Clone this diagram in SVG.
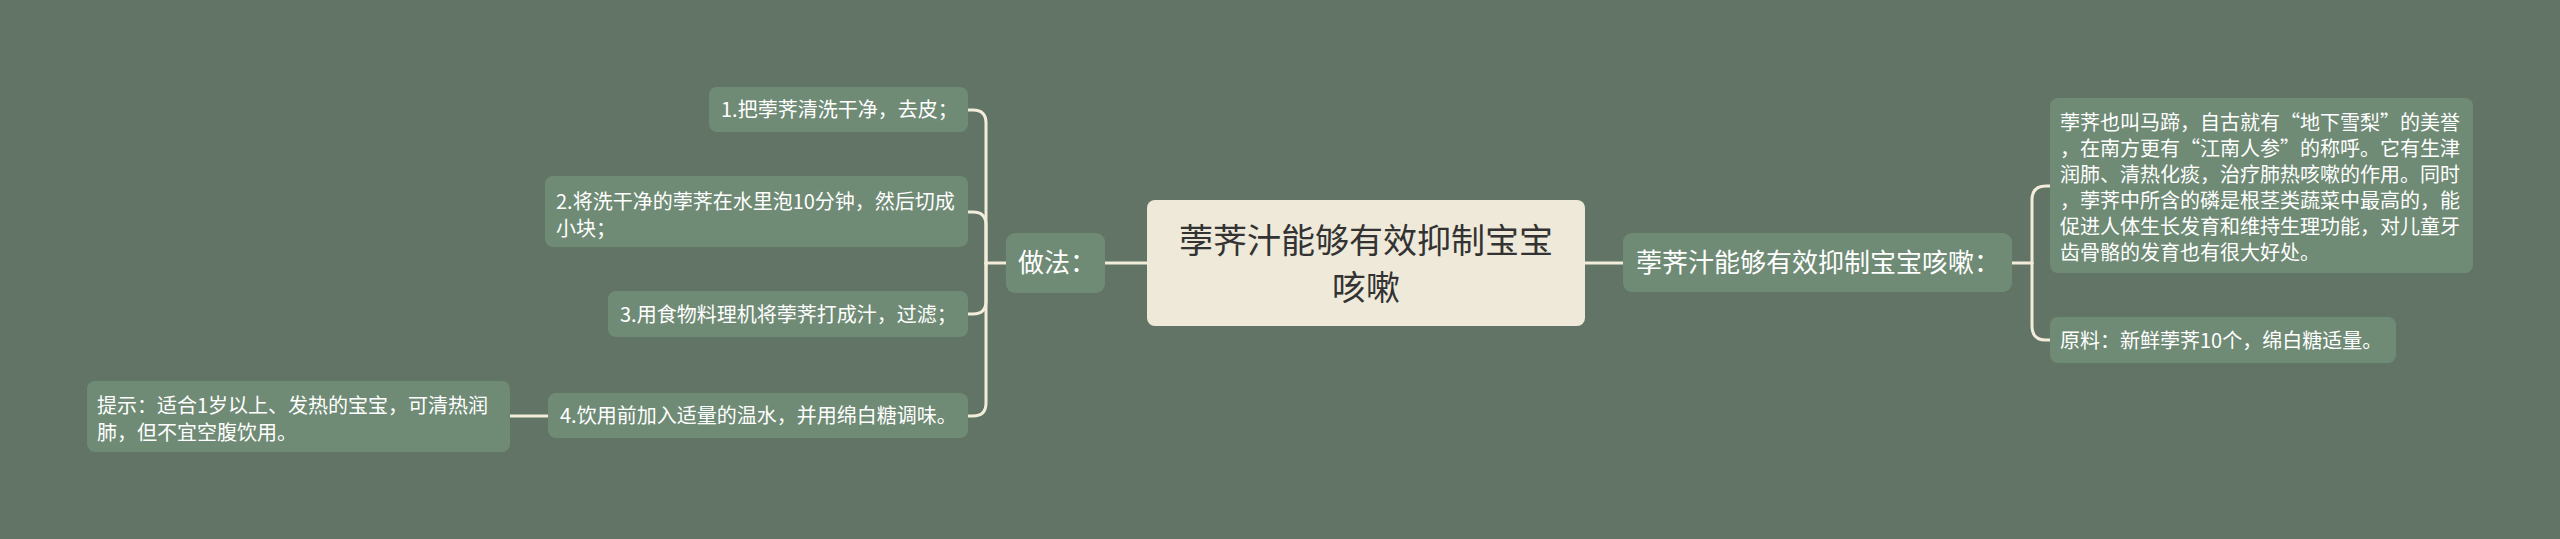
<svg xmlns="http://www.w3.org/2000/svg" width="2560" height="539" viewBox="0 0 2560 539">
<style>
.bg{fill:#627465}
.nd{fill:#6f8b75}
.ct{fill:#efe9d9}
.t{font-family:"Noto Sans CJK SC","Liberation Sans",sans-serif;fill:#ffffff}
.s20{font-size:20px}
.s26{font-size:26px}
.tc{font-family:"Noto Sans CJK SC","Liberation Sans",sans-serif;font-size:34px;fill:#333333;text-anchor:middle}
.ln{fill:none;stroke:#f2edda;stroke-width:3;stroke-linecap:round}
</style>
<rect class="bg" x="0" y="0" width="2560" height="539"/>
<g id="connectors">
<path class="ln" d="M1147 263 H1105"/>
<path class="ln" d="M1006 263 H986"/>
<path class="ln" d="M986 263 V123 Q986 110 973 110 H968"/>
<path class="ln" d="M986 263 V225 Q986 212 973 212 H968"/>
<path class="ln" d="M986 263 V301 Q986 314 973 314 H968"/>
<path class="ln" d="M986 263 V403 Q986 416 973 416 H968"/>
<path class="ln" d="M548 416 H510"/>
<path class="ln" d="M1585 263 H1623"/>
<path class="ln" d="M2012 263 H2032"/>
<path class="ln" d="M2032 263 V200 Q2032 186 2046 186 H2050"/>
<path class="ln" d="M2032 263 V326 Q2032 340 2046 340 H2050"/>
</g>
<g id="center">
<rect class="ct" x="1147" y="200" width="438" height="126" rx="8"/>
<text class="tc" x="1366" y="253">荸荠汁能够有效抑制宝宝</text>
<text class="tc" x="1366" y="300">咳嗽</text>
</g>
<g id="zuofa">
<rect class="nd" x="1006" y="233" width="99" height="60" rx="9"/>
<text class="t s26" x="1018" y="272">做法：</text>
</g>
<g id="step1">
<rect class="nd" x="709" y="87" width="259" height="45" rx="8"/>
<text class="t s20" x="721" y="117">1.把荸荠清洗干净，去皮；</text>
</g>
<g id="step2">
<rect class="nd" x="545" y="176" width="423" height="71" rx="8"/>
<text class="t s20" x="556" y="208.5">2.将洗干净的荸荠在水里泡10分钟，然后切成</text>
<text class="t s20" x="556" y="235.5">小块；</text>
</g>
<g id="step3">
<rect class="nd" x="608" y="291" width="360" height="46" rx="8"/>
<text class="t s20" x="620" y="321.5">3.用食物料理机将荸荠打成汁，过滤；</text>
</g>
<g id="step4">
<rect class="nd" x="548" y="393" width="420" height="45" rx="8"/>
<text class="t s20" x="560" y="423">4.饮用前加入适量的温水，并用绵白糖调味。</text>
</g>
<g id="tip">
<rect class="nd" x="87" y="381" width="423" height="71" rx="8"/>
<text class="t s20" x="97" y="412.5">提示：适合1岁以上、发热的宝宝，可清热润</text>
<text class="t s20" x="97" y="439.5">肺，但不宜空腹饮用。</text>
</g>
<g id="right">
<rect class="nd" x="1623" y="233" width="389" height="59" rx="9"/>
<text class="t s26" x="1636" y="272">荸荠汁能够有效抑制宝宝咳嗽：</text>
</g>
<g id="desc">
<rect class="nd" x="2050" y="98" width="423" height="175" rx="8"/>
<text class="t s20" x="2060" y="130">荸荠也叫马蹄，自古就有“地下雪梨”的美誉</text>
<text class="t s20" x="2060" y="156">，在南方更有“江南人参”的称呼。它有生津</text>
<text class="t s20" x="2060" y="182">润肺、清热化痰，治疗肺热咳嗽的作用。同时</text>
<text class="t s20" x="2060" y="208">，荸荠中所含的磷是根茎类蔬菜中最高的，能</text>
<text class="t s20" x="2060" y="234">促进人体生长发育和维持生理功能，对儿童牙</text>
<text class="t s20" x="2060" y="260">齿骨骼的发育也有很大好处。</text>
</g>
<g id="material">
<rect class="nd" x="2050" y="317" width="346" height="46" rx="8"/>
<text class="t s20" x="2060" y="347.5">原料：新鲜荸荠10个，绵白糖适量。</text>
</g>
</svg>
